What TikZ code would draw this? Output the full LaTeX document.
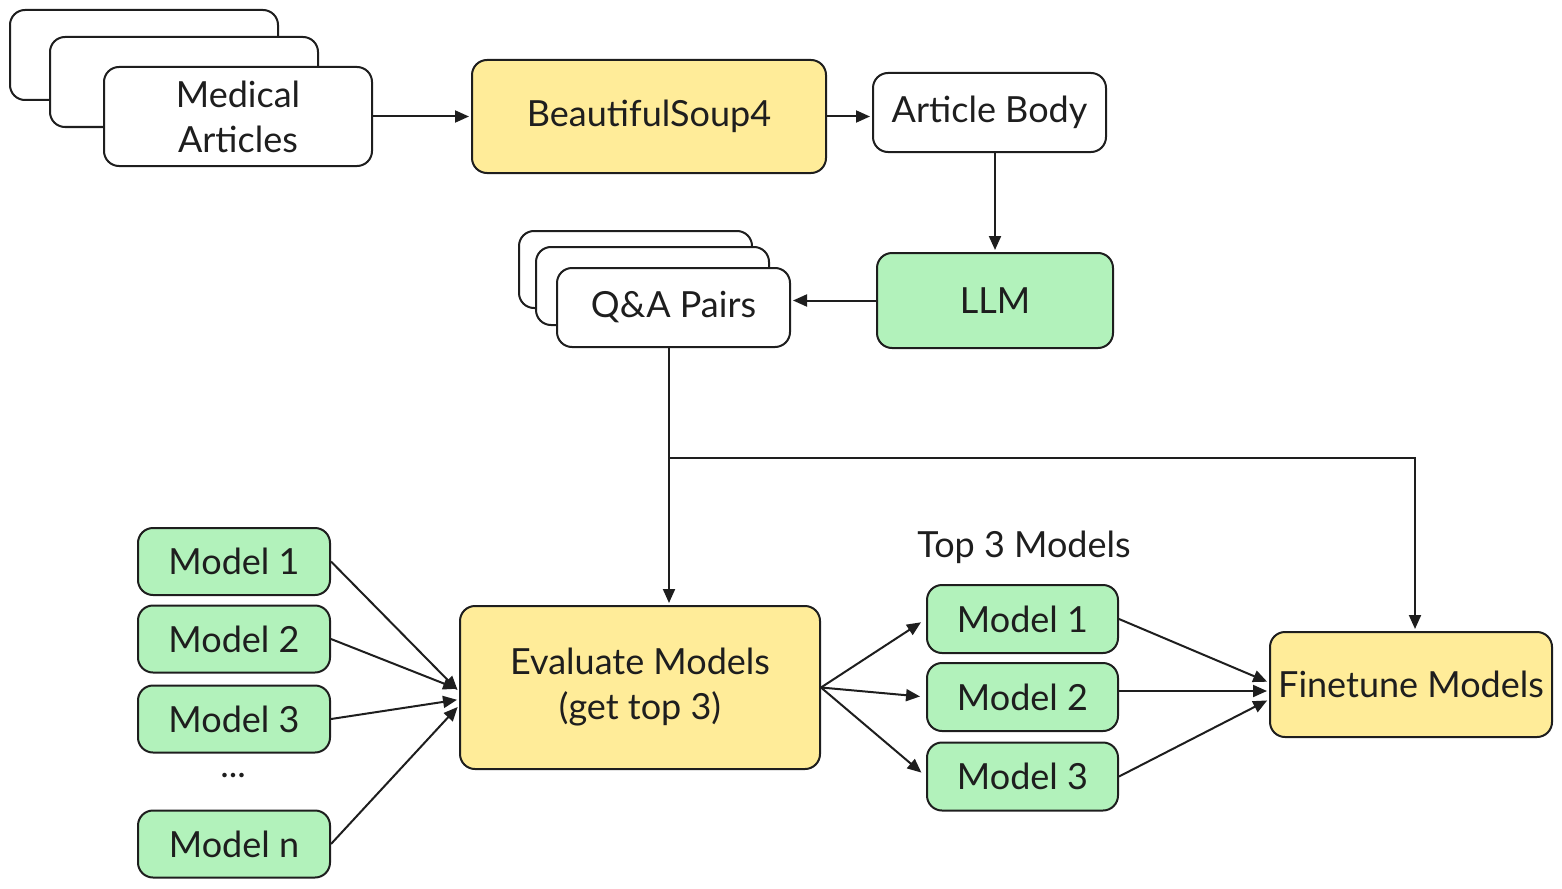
\documentclass[tikz,border=0pt]{standalone}
\usepackage{fontspec}
\setmainfont{Lato}
\usetikzlibrary{arrows.meta}

\definecolor{inkc}{HTML}{1E1E1E}
\definecolor{yellowc}{HTML}{FFEC99}
\definecolor{greenc}{HTML}{B2F2BB}

\tikzset{
    box/.style={draw=inkc, line width=1pt, rounded corners=7.5pt, align=center, inner sep=0pt, text=inkc, fill=white},
    yellowbox/.style={box, fill=yellowc},
    greenbox/.style={box, fill=greenc},
    arrow/.style={draw=inkc, line width=1pt, -{Triangle[length=7pt,width=6pt]}, shorten >=1pt}
}

\begin{document}
\begin{tikzpicture}[x=0.5pt, y=-0.5pt, font=\fontsize{18}{22.5}\selectfont]
        \useasboundingbox (0,0) rectangle (1562,888);

        % Stack of medical articles
        \node[box, minimum width=134pt, minimum height=45pt] (art3) at (144,55) {};
        \node[box, minimum width=134pt, minimum height=45pt] (art2) at (184,82) {};
        \node[box, minimum width=134pt, minimum height=49.5pt] (art1) at (238,116.5) {Medical\\Articles};

        % Top row
        \node[yellowbox, minimum width=177pt, minimum height=56.5pt] (bs4) at (649,116.5) {BeautifulSoup4};
        \node[box, minimum width=116.5pt, minimum height=39.5pt] (ab) at (989.5,112.5) {Article Body};
        \node[greenbox, minimum width=118pt, minimum height=47.5pt] (llm) at (995,300.5) {LLM};

        % Stack of Q&A pairs
        \node[box, minimum width=116.5pt, minimum height=38.5pt] (qa3) at (635.5,269.5) {};
        \node[box, minimum width=116.5pt, minimum height=39pt] (qa2) at (652.5,286) {};
        \node[box, minimum width=116.5pt, minimum height=39.5pt] (qa1) at (673.5,307.5) {Q\&A Pairs};

        % Evaluation and finetuning
        \node[yellowbox, minimum width=180pt, minimum height=81.5pt] (eval) at (640,687.5) {Evaluate Models\\(get top 3)};
        \node[yellowbox, minimum width=141pt, minimum height=52.5pt] (ft) at (1411,684.5) {Finetune Models};

        % Candidate models on the left
        \foreach \name/\y/\txt in {m1/561.5/1, m2/639/2, m3/719/3, mn/844/n}
            \node[greenbox, minimum width=96pt, minimum height=33.5pt] (\name) at (234,\y) {Model \txt};
        \node[text=inkc] (dots) at (233,776) {...};

        % Top 3 models
        \node[text=inkc] (toplbl) at (1024,547) {Top 3 Models};
        \foreach \name/\y/\txt in {t1/619/1, t2/697/2, t3/776.5/3}
            \node[greenbox, minimum width=95.5pt, minimum height=34pt] (\name) at (1022.5,\y) {Model \txt};

        % Arrows along the top
        \draw[arrow] (art1.east) -- (art1.east -| bs4.west);
        \draw[arrow] (bs4.east) -- (bs4.east -| ab.west);
        \draw[arrow] (llm.north |- ab.south) -- (llm.north);
        \draw[arrow] (llm.west) -- (llm.west -| qa1.east);

        % Q&A pairs split to evaluation and finetuning
        \coordinate (split) at (669,458);
        \draw[arrow] (split |- qa1.south) -- (split |- eval.north);
        \draw[arrow] (split) -| ([xshift=2pt]ft.north);

        % Models into evaluation
        \draw[arrow] (m1.east) -- ([yshift=-2pt]eval.west);
        \draw[arrow] (m2.east) -- ([yshift=-1pt]eval.west);
        \draw[arrow] (m3.east) -- ([yshift=-6pt]eval.west);
        \draw[arrow] (mn.east) -- ([yshift=-9pt]eval.west);

        % Evaluation to top 3, top 3 to finetuning
        \foreach \name in {t1, t2, t3}
            \draw[arrow, shorten >=3pt] (eval.east) -- (\name.west);
        \draw[arrow] (t1.east) -- ([yshift=1pt]ft.west);
        \draw[arrow] ([yshift=3pt]t2.east) -- ([yshift=3pt]t2.east -| ft.west);
        \draw[arrow] (t3.east) -- ([yshift=-7.5pt]ft.west);
\end{tikzpicture}
\end{document}
